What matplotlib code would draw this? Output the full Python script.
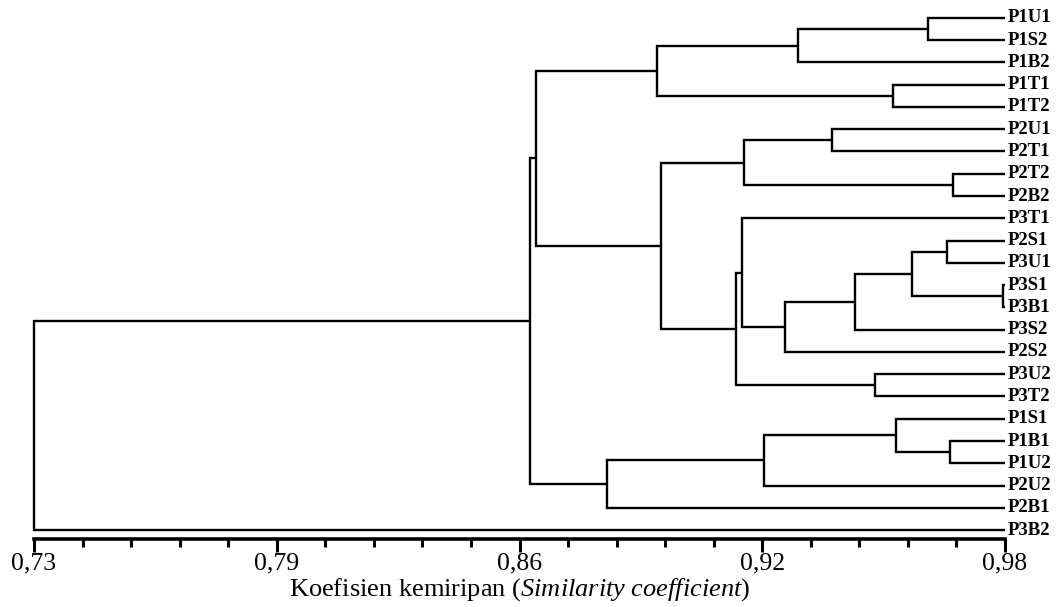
import matplotlib
matplotlib.use("Agg")
import matplotlib.pyplot as plt
import numpy as np

# Leaves, top to bottom
leaves = ["P1U1", "P1S2", "P1B2", "P1T1", "P1T2", "P2U1", "P2T1", "P2T2",
          "P2B2", "P3T1", "P2S1", "P3U1", "P3S1", "P3B1", "P3S2", "P2S2",
          "P3U2", "P3T2", "P1S1", "P1B1", "P1U2", "P2U2", "P2B1", "P3B2"]

# Merges: indices < 24 are leaves, index 24 + k is the k-th merge below.
merge_left = [0, 24, 3, 25, 5, 7, 28, 10, 12, 31, 33, 34, 9, 16, 36, 30,
              27, 19, 18, 42, 43, 40, 45]
merge_right = [1, 2, 4, 26, 6, 8, 29, 11, 13, 32, 14, 15, 35, 17, 37, 38,
               39, 20, 41, 21, 22, 44, 23]
merge_sim = [0.9602, 0.9267, 0.9512, 0.8904, 0.9355, 0.9666, 0.9128, 0.9651,
             0.9795, 0.9561, 0.9414, 0.9234, 0.9123, 0.9466, 0.9108, 0.8915,
             0.8593, 0.9659, 0.9520, 0.9180, 0.8775, 0.8577, 0.7300]

tick_values = [0.73, 0.7925, 0.855, 0.9175, 0.98]
tick_labels = ["0,73", "0,79", "0,86", "0,92", "0,98"]

plt.rcParams['font.family'] = ['Liberation Serif', 'DejaVu Serif']
plt.rcParams['mathtext.fontset'] = 'custom'
plt.rcParams['mathtext.rm'] = 'Liberation Serif'
plt.rcParams['mathtext.it'] = 'Liberation Serif:italic'

leaf_x = 0.98
n = len(leaves)
pos = {i: float(i) for i in range(n)}
hx = {i: leaf_x for i in range(n)}

fig = plt.figure(figsize=(10.57, 6.07), dpi=100)
ax = fig.add_axes([34 / 1057, 68 / 607, (1005 - 34) / 1057, 539 / 607])

lw = 1.7
for k, (a, b, h) in enumerate(zip(merge_left, merge_right, merge_sim)):
    idx = n + k
    ya, yb = pos[a], pos[b]
    xa, xb = hx[a], hx[b]
    ax.plot([xa, h, h, xb], [ya, ya, yb, yb], color='black', lw=lw,
            solid_joinstyle='miter', solid_capstyle='butt', clip_on=False)
    pos[idx] = (ya + yb) / 2
    hx[idx] = h

for i, name in enumerate(leaves):
    ax.annotate(name, xy=(leaf_x, i), xytext=(2, 0), textcoords='offset points',
                ha='left', va='center', fontsize=13.5, fontweight='bold',
                annotation_clip=False)

ax.set_xlim(0.73, 0.98)
ax.set_ylim(23.4, -0.8)
ax.set_yticks([])
for s in ['top', 'right', 'left']:
    ax.spines[s].set_visible(False)
ax.spines['bottom'].set_linewidth(2.6)
ax.set_xticks(tick_values)
ax.set_xticklabels(tick_labels, fontsize=18.5)
ax.set_xticks(np.arange(0.73, 0.98 + 1e-9, 0.0125), minor=True)
ax.tick_params(axis='x', which='major', length=9, width=2.2, direction='out', pad=1)
ax.tick_params(axis='x', which='minor', length=6, width=2.2, direction='out')
ax.set_xlabel(r"Koefisien kemiripan ($\mathit{Similarity\ coefficient}$)",
              fontsize=19, labelpad=1)

fig.savefig("out.png", dpi=100)
